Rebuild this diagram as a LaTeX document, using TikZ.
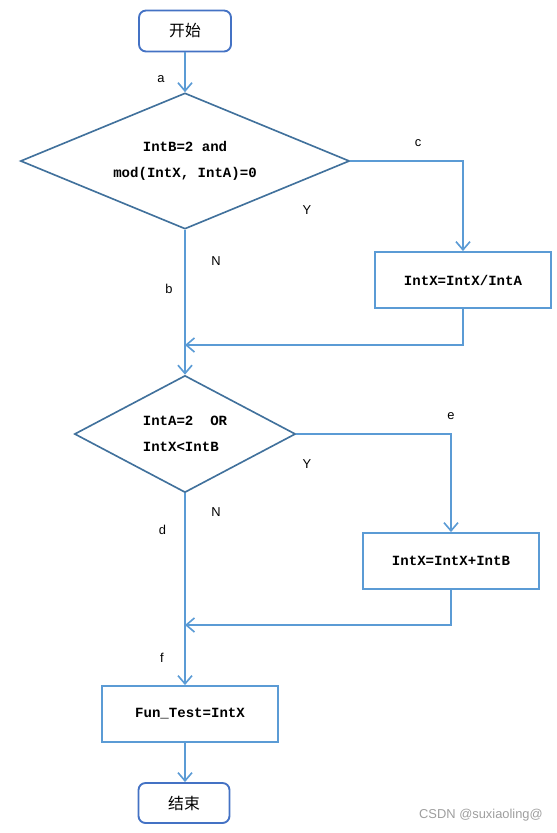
\documentclass[tikz,border=0pt]{standalone}
\usepackage{fontspec}
\setsansfont{Liberation Sans}
\setmonofont{Liberation Mono}
\newfontfamily\cjk{Noto Sans CJK SC}
\usepackage{xcolor}
\usepackage{tikz}
\usetikzlibrary{shapes.geometric,arrows.meta}

\definecolor{diaBlue}{HTML}{41719C}
\definecolor{termBlue}{HTML}{4472C4}
\definecolor{lineBlue}{HTML}{5B9BD5}

\tikzset{
  termbox/.style={draw=termBlue,line width=1.6pt,rounded corners=6pt,
    font=\cjk\fontsize{13.5}{16}\selectfont},
  procbox/.style={draw=lineBlue,line width=1.6pt,
    font=\ttfamily\bfseries\fontsize{12}{14}\selectfont},
  decision/.style={diamond,draw=diaBlue,line width=1.4pt,inner sep=0pt,
    font=\ttfamily\bfseries\fontsize{12}{22}\selectfont},
  flow/.style={draw=lineBlue,line width=1.6pt,
    -{Straight Barb[length=7pt,width=12pt,line width=1.4pt]}},
  lbl/.style={font=\sffamily\fontsize{11}{13}\selectfont,inner sep=0pt}
}

\begin{document}
\begin{tikzpicture}[x=0.03cm,y=-0.03cm]
  \useasboundingbox (0,0) rectangle (557,833);

  % Kroki
  \node[termbox,minimum width=2.76cm,minimum height=1.23cm] (start) at (185,31) {开始};
  \node[decision,align=center,shape aspect=2.4,minimum width=9.87cm,minimum height=4.08cm]
    (d1) at (185,161) {IntB=2 and\\mod(IntX, IntA)=0};
  \node[procbox,minimum width=5.28cm,minimum height=1.68cm] (b1) at (463,280) {IntX=IntX/IntA};
  \node[decision,align=left,shape aspect=1.9,minimum width=6.63cm,minimum height=3.51cm]
    (d2) at (185,434) {IntA=2~~OR\\IntX<IntB};
  \node[procbox,minimum width=5.28cm,minimum height=1.68cm] (b2) at (451,561) {IntX=IntX+IntB};
  \node[procbox,minimum width=5.28cm,minimum height=1.68cm] (b3) at (190,714) {Fun\_Test=IntX};
  \node[termbox,minimum width=2.73cm,minimum height=1.2cm] (end) at (184,803) {结束};

  % Punkty zbiegu
  \coordinate (j1) at (185,345);
  \coordinate (j2) at (185,625);

  % Połączenia
  \draw[flow] (start) -- (d1.north);
  \draw[flow] (d1.east) -| (b1.north);
  \draw[flow] (b1.south) |- (j1);
  \draw[flow] (d1.south) -- (d2.north);
  \draw[flow] (d2.east) -| (b2.north);
  \draw[flow] (b2.south) |- (j2);
  \draw[flow] (d2.south) -- (d2.south |- b3.north);
  \draw[flow] (d2.south |- b3.south) -- (d2.south |- end.north);

  % Etykiety
  \node[lbl] (la) at (161,79) {a};
  \node[lbl] (lc) at (418,143) {c};
  \node[lbl] (ly1) at (307,210) {Y};
  \node[lbl] (ln1) at (216,261) {N};
  \node[lbl] (lb) at (169,289) {b};
  \node[lbl] (le) at (451,416) {e};
  \node[lbl] (ly2) at (307,464) {Y};
  \node[lbl] (ln2) at (216,512) {N};
  \node[lbl] (ld) at (162.5,530) {d};
  \node[lbl] (lf) at (162,658) {f};

  \node[lbl,anchor=east,text=black!38] (wm) at (543,815) {CSDN @suxiaoling@};
\end{tikzpicture}
\end{document}
